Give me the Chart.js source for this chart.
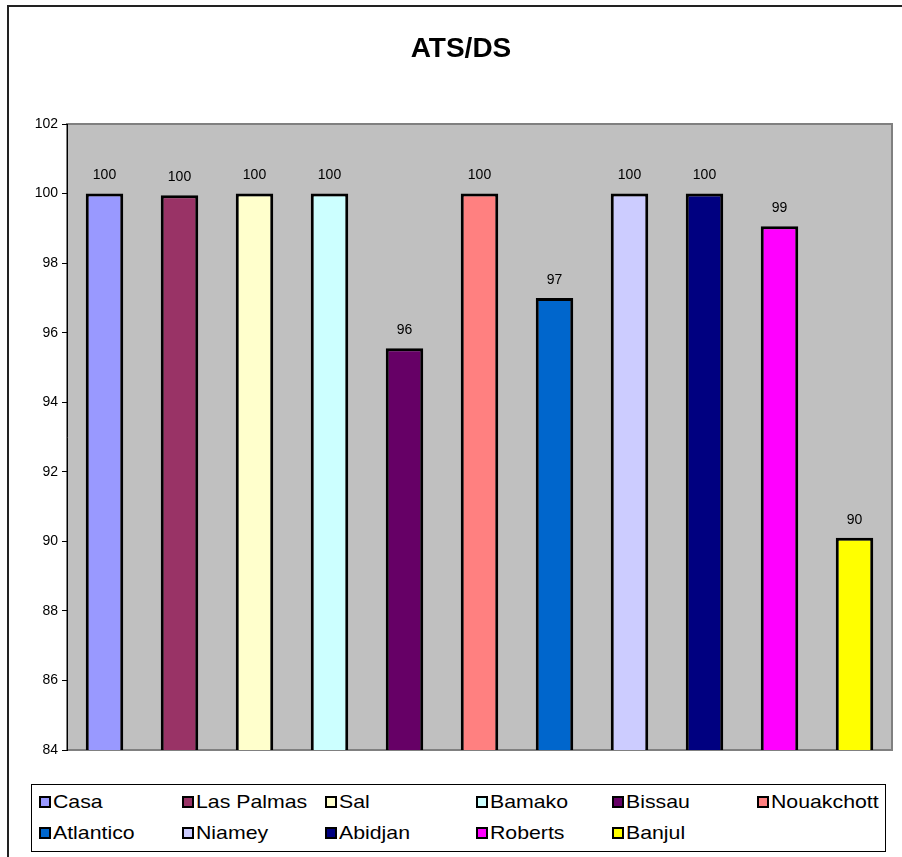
<!DOCTYPE html>
<html>
<head>
<meta charset="utf-8">
<script src="https://cdn.jsdelivr.net/npm/chart.js@4.4.0/dist/chart.umd.min.js"></script>
<style>
  body { margin: 0; background: #fff; font-family: "Liberation Sans", Arial, sans-serif; }
  #wrap { position: relative; width: 902px; height: 857px; overflow: hidden; }
  #frame { position: absolute; left: 7px; top: 5px; width: 1000px; height: 1000px; border: 2px solid #222; box-sizing: border-box; }
  #c { position: absolute; left: 0; top: 0; }
  #legend { position: absolute; left: 31px; top: 784px; width: 855px; height: 68px; border: 1px solid #000; box-sizing: border-box; background: #fff; }
  .sw { position: absolute; width: 8px; height: 8px; border: 2px solid #000; }
  .txt { position: absolute; font-size: 19px; line-height: 22px; color: #000; white-space: nowrap; transform: scaleX(1.12); transform-origin: 0 50%; }
</style>
</head>
<body>
<div id="wrap">
  <div id="frame"></div>
  <canvas id="c" width="902" height="857"></canvas>
  <div id="legend"></div>
</div>
<script>
const categories = ['Casa', 'Las Palmas', 'Sal', 'Bamako', 'Bissau', 'Nouakchott', 'Atlantico', 'Niamey', 'Abidjan', 'Roberts', 'Banjul'];
const values = [100, 99.95, 100, 100, 95.55, 100, 97.0, 100, 100, 99.06, 90.1];
const colors = ['#9999FF', '#993366', '#FFFFCC', '#CCFFFF', '#660066', '#FF8080', '#0066CC', '#CCCCFF', '#000080', '#FF00FF', '#FFFF00'];
const yMin = 84;
const yMax = 102;
const yStep = 2;
const chartTitle = 'ATS/DS';

// one dataset per station so each gets its own legend entry
const datasets = categories.map(function (name, i) {
    return {
        label: name,
        data: categories.map(function (_, j) { return j === i ? values[i] : null; }),
        backgroundColor: colors[i],
        borderColor: '#000',
        borderWidth: 3,
        borderSkipped: false,
        grouped: false,
        barPercentage: 0.5,
        categoryPercentage: 1
    };
});

const plotBack = {
    id: 'plotBack',
    beforeDraw(chart) {
        const a = chart.chartArea, c = chart.ctx;
        c.save();
        c.fillStyle = '#C0C0C0';
        c.fillRect(a.left, a.top, a.right - a.left, a.bottom - a.top);
        c.strokeStyle = '#808080';
        c.lineWidth = 2;
        c.strokeRect(a.left, a.top, a.right - a.left, a.bottom - a.top);
        c.restore();
    },
    afterDraw(chart) {
        const c = chart.ctx;
        c.save();
        c.fillStyle = '#000';
        c.font = 'bold 28px "Liberation Sans", Arial, sans-serif';
        c.textAlign = 'center';
        c.textBaseline = 'middle';
        c.fillText(chartTitle, 461, 49);
        c.restore();
    }
};

const valueLabels = {
    id: 'valueLabels',
    afterDatasetsDraw(chart) {
        const c = chart.ctx;
        c.save();
        c.fillStyle = '#000';
        c.font = '14px "Liberation Sans", Arial, sans-serif';
        c.textAlign = 'center';
        c.textBaseline = 'middle';
        chart.data.datasets.forEach(function (ds, i) {
            const meta = chart.getDatasetMeta(i);
            meta.data.forEach(function (bar, j) {
                const v = ds.data[j];
                if (v === null) return;
                c.fillText(Math.round(v), bar.x, bar.y - 18);
            });
        });
        c.restore();
    }
};

new Chart(document.getElementById('c'), {
    type: 'bar',
    data: { labels: categories, datasets: datasets },
    options: {
        responsive: false,
        animation: false,
        layout: { padding: { left: 8, top: 124, right: 10, bottom: 107 } },
        plugins: { legend: { display: false }, title: { display: false }, tooltip: { enabled: false } },
        scales: {
            x: { display: false },
            y: {
                min: yMin,
                max: yMax,
                afterFit(scale) { scale.width = 59; },
                ticks: {
                    stepSize: yStep,
                    color: '#000',
                    padding: 4,
                    font: { family: '"Liberation Sans", Arial, sans-serif', size: 14 }
                },
                grid: { drawOnChartArea: false, drawTicks: true, tickLength: 5, color: '#000' },
                border: { color: '#000', width: 1 }
            }
        }
    },
    plugins: [plotBack, valueLabels]
});

// legend laid out in Excel-like fixed columns (page x of each swatch)
const colX = [39, 182, 325, 476, 612, 757];
const rowY = [802, 833];
const legend = document.getElementById('legend');
categories.forEach(function (name, i) {
    const x = colX[i % 6] - 32;
    const y = rowY[Math.floor(i / 6)] - 785;
    const sw = document.createElement('div');
    sw.className = 'sw';
    sw.style.background = colors[i];
    sw.style.left = x + 'px';
    sw.style.top = (y - 6) + 'px';
    const t = document.createElement('div');
    t.className = 'txt';
    t.style.left = (x + 14) + 'px';
    t.style.top = (y - 11) + 'px';
    t.textContent = name;
    legend.appendChild(sw);
    legend.appendChild(t);
});
</script>
</body>
</html>
